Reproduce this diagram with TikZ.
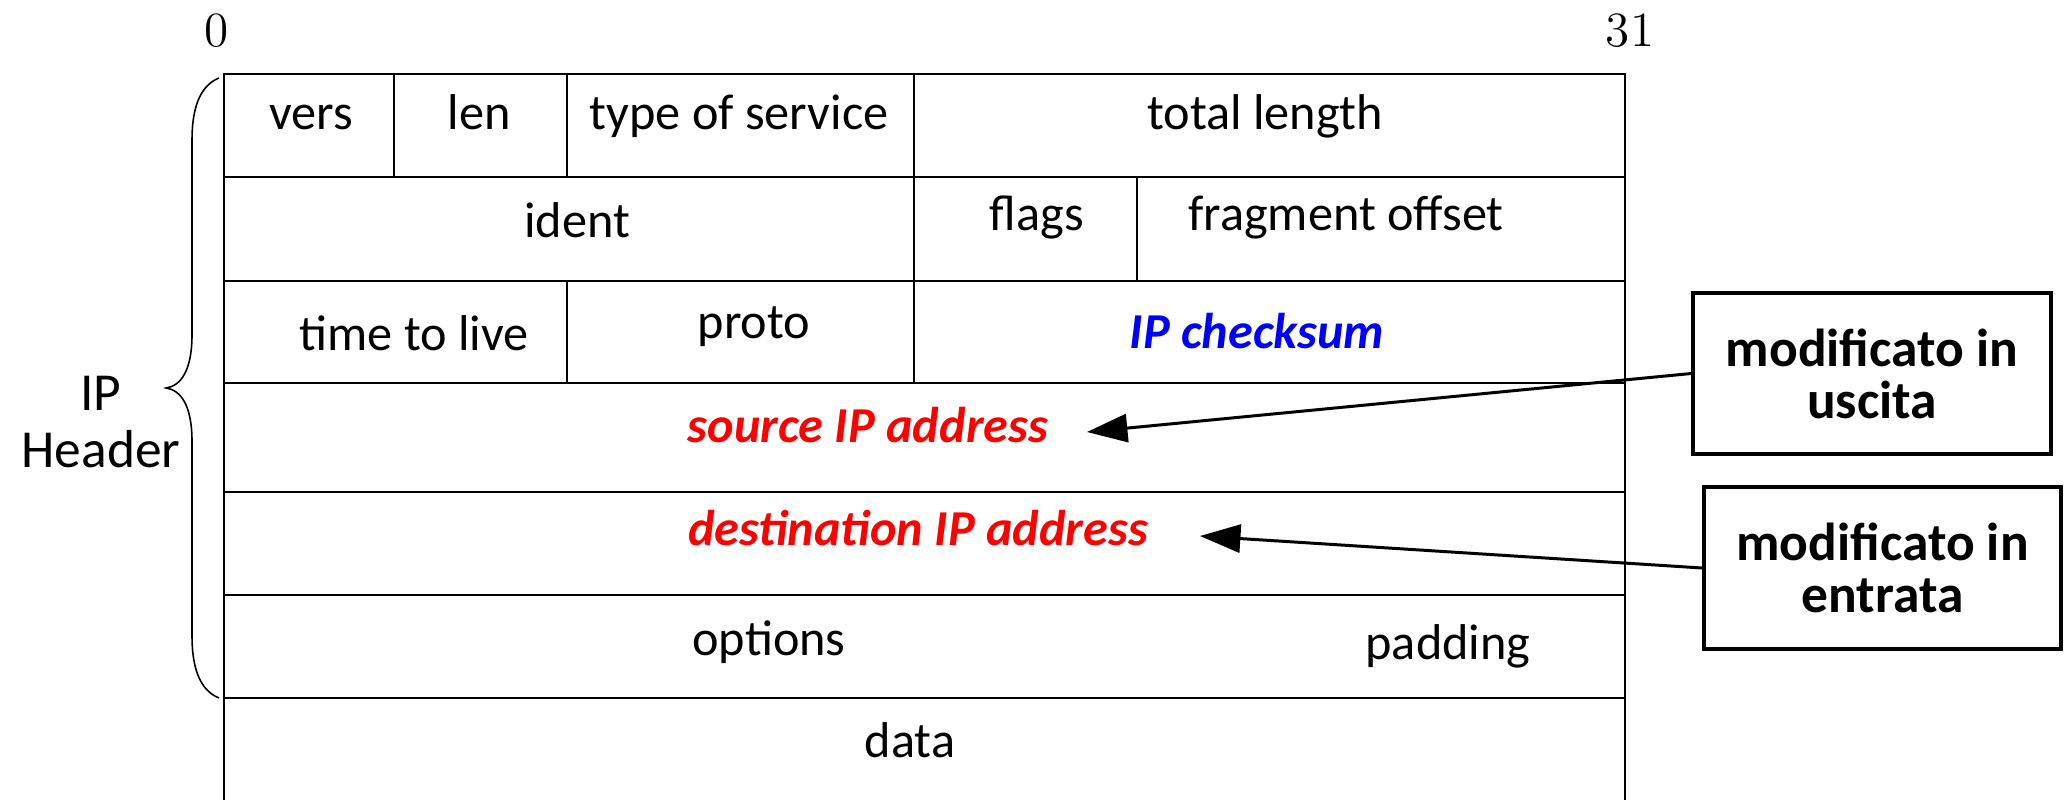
\documentclass[tikz,border=0pt]{standalone}
\usepackage{fontspec}
\setmainfont{Carlito}
\usetikzlibrary{arrows.meta}

\tikzset{
  cell/.style={line width=0.45pt},
  fld/.style={anchor=base, inner sep=0pt, font=\fontsize{14.3}{17}\selectfont},
  hot/.style={fld, text=red, font=\fontsize{14.3}{17}\selectfont\bfseries\itshape},
  sum/.style={fld, text=blue, font=\fontsize{14.3}{17}\selectfont\bfseries\itshape},
  side/.style={anchor=base, inner sep=0pt, font=\fontsize{15.2}{17.4}\selectfont},
  bitnum/.style={anchor=base, inner sep=0pt, font=\fontfamily{lmr}\fontsize{14}{17}\selectfont},
  note/.style={draw, line width=0.95pt, align=center, inner sep=0pt,
    font=\fontsize{15.2}{14.8}\selectfont\bfseries},
  pointer/.style={line width=0.85pt, -{Triangle[length=11.5pt, width=8pt]}}
}

\begin{document}
\begin{tikzpicture}[x=0.01cm, y=-0.01cm]
\useasboundingbox (0,0) rectangle (2069,800);

% header grid
\draw[cell] (224,800) -- (224,74) -- (1625,74) -- (1625,800);
\foreach \yy in {177,281,383,492,595,698}
  \draw[cell] (224,\yy) -- (1625,\yy);
\draw[cell] (394,74) -- (394,177);
\draw[cell] (567,74) -- (567,177);
\draw[cell] (914,74) -- (914,383);
\draw[cell] (1137,177) -- (1137,281);
\draw[cell] (567,281) -- (567,383);

% bit numbers
\node[bitnum] (b0) at (217,47) {0};
\node[bitnum] (b31) at (1630,47) {31};

% field names
\node[fld] (vers) at (311,129) {vers};
\node[fld] (len) at (479,129) {len};
\node[fld] (tos) at (739,129) {type of service};
\node[fld] (tlen) at (1265,129) {total length};
\node[fld] (ident) at (577,237) {ident};
\node[fld] (flags) at (1037,230) {flags};
\node[fld] (frag) at (1346,230) {fragment offset};
\node[fld] (ttl) at (414,350) {time to live};
\node[fld] (proto) at (754,338) {proto};
\node[sum] (cksum) at (1257,348) {IP checksum};
\node[hot] (src) at (868,442) {source IP address};
\node[hot] (dst) at (918,545) {destination IP address};
\node[fld] (opts) at (769,655) {options};
\node[fld] (pad) at (1448,659) {padding};
\node[fld] (data) at (910,757) {data};

% brace and label for the header part
\draw[line width=0.45pt] (219,78) .. controls (199,86) and (192,110) .. (192,140)
  -- (192,335) .. controls (192,370) and (181,386) .. (166,388)
  .. controls (181,390) and (192,406) .. (192,441)
  -- (192,636) .. controls (192,666) and (199,690) .. (219,698);
\node[side] (hdr1) at (101,410) {IP};
\node[side] (hdr2) at (101,467) {Header};

% notes
\node[note, minimum width=3.58cm, minimum height=1.61cm] (outbox) at (1872,373.5) {modificato in\\uscita};
\node[note, minimum width=3.57cm, minimum height=1.62cm] (inbox) at (1882.5,568) {modificato in\\entrata};

\coordinate (srctip) at (1087,432);
\coordinate (dsttip) at (1200,536);
\draw[pointer] (outbox.west) -- (srctip);
\draw[pointer] (inbox.west) -- (dsttip);
\end{tikzpicture}
\end{document}
